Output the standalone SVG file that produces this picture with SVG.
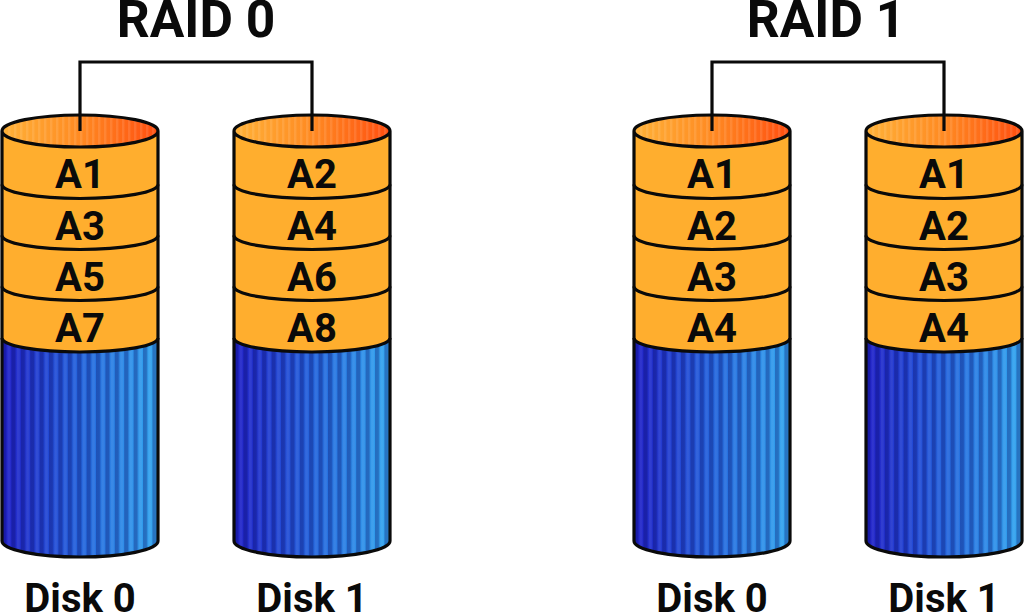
<svg xmlns="http://www.w3.org/2000/svg" width="1024" height="614" viewBox="0 0 1024 614">
<style>
text{font-family:Roboto,"Liberation Sans",sans-serif;font-weight:700;fill:#0a0a0a;text-anchor:middle}
.t{font-size:51.5px}.l{font-size:40px}
.s{fill:none;stroke:#0a0a0a;stroke-width:3.2;stroke-linejoin:miter}
</style>
<defs>
<linearGradient id="blue" gradientUnits="userSpaceOnUse" x1="-78" x2="78" y1="0" y2="0"><stop offset="0" stop-color="#2020c8"/><stop offset=".5" stop-color="#2464dc"/><stop offset="1" stop-color="#34a8f0"/></linearGradient>
<linearGradient id="top" gradientUnits="userSpaceOnUse" x1="-78" x2="78" y1="0" y2="0"><stop offset="0" stop-color="#ffb238"/><stop offset=".5" stop-color="#ff8a22"/><stop offset="1" stop-color="#ff4e10"/></linearGradient>
<pattern id="stripes" patternUnits="userSpaceOnUse" x="-78" y="0" width="9.4" height="10"><rect x="0" width="4.2" height="10" fill="#0c0c60" fill-opacity=".32"/><rect x="5.4" width="2.8" height="10" fill="#ffffff" fill-opacity=".07"/></pattern>
<pattern id="fine" patternUnits="userSpaceOnUse" x="-78" y="0" width="6" height="10"><rect width="2.4" height="10" fill="#ffffff" fill-opacity=".1"/></pattern>
<g id="cyl">
<path d="M-78 131V541A78 16 0 0 0 78 541V131Z" fill="url(#blue)"/>
<path d="M-78 131V541A78 16 0 0 0 78 541V131Z" fill="url(#stripes)"/>
<path d="M-78 131V338A78 14 0 0 0 78 338V131Z" fill="#ffae2e"/>
<ellipse cx="0" cy="131" rx="78" ry="16" fill="url(#top)"/>
<ellipse cx="0" cy="131" rx="78" ry="16" fill="url(#fine)"/>
<path class="s" d="M-78 131A78 16 0 0 1 78 131A78 16 0 0 1 -78 131V541A78 16 0 0 0 78 541V131"/>
<path class="s" d="M-78 184.500A78 14 0 0 0 78 184.500M-78 235.500A78 14 0 0 0 78 235.500M-78 286.500A78 14 0 0 0 78 286.500M-78 338A78 14 0 0 0 78 338"/>
</g>
</defs>
<g id="disk-r0-0"><use href="#cyl" transform="translate(80 0)"/><text class="l" x="80" y="188">A1</text><text class="l" x="80" y="240">A3</text><text class="l" x="80" y="291">A5</text><text class="l" x="80" y="342">A7</text><text class="l" x="80" y="612">Disk 0</text></g>
<g id="disk-r0-1"><use href="#cyl" transform="translate(312 0)"/><text class="l" x="312" y="188">A2</text><text class="l" x="312" y="240">A4</text><text class="l" x="312" y="291">A6</text><text class="l" x="312" y="342">A8</text><text class="l" x="312" y="612">Disk 1</text></g>
<g id="disk-r1-0"><use href="#cyl" transform="translate(712 0)"/><text class="l" x="712" y="188">A1</text><text class="l" x="712" y="240">A2</text><text class="l" x="712" y="291">A3</text><text class="l" x="712" y="342">A4</text><text class="l" x="712" y="612">Disk 0</text></g>
<g id="disk-r1-1"><use href="#cyl" transform="translate(944 0)"/><text class="l" x="944" y="188">A1</text><text class="l" x="944" y="240">A2</text><text class="l" x="944" y="291">A3</text><text class="l" x="944" y="342">A4</text><text class="l" x="944" y="612">Disk 1</text></g>
<g id="connectors"><path class="s" d="M80 131V62H312V131"/><path class="s" d="M712 131V62H944V131"/></g>
<g id="title-r0"><text class="t" x="196" y="37">RAID 0</text></g>
<g id="title-r1"><text class="t" x="826" y="37">RAID 1</text></g>
</svg>
